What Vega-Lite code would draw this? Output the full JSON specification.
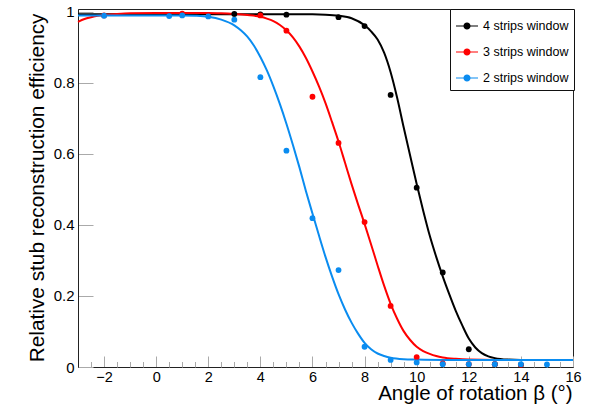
{
  "$schema": "https://vega.github.io/schema/vega-lite/v6.json",
  "width": 495,
  "height": 358,
  "autosize": "none",
  "padding": {"left": 78, "top": 9, "right": 19, "bottom": 38},
  "background": "white",
  "config": {
    "font": "Liberation Sans",
    "view": {"stroke": "#222", "strokeWidth": 1},
    "axis": {"grid": false, "titleFontWeight": "normal", "titleColor": "black", "labelColor": "black", "labelFont": "Liberation Sans", "titleFont": "Liberation Sans", "domainColor": "#222", "tickColor": "#aaa", "labelOverlap": false, "labelFlush": false, "labelBound": false}
  },
  "resolve": {"axis": {"x": "independent"}},
  "datasets": {
    "curves": [
      {"series": "4 strips window", "x": -3, "y": 0.993},
      {"series": "4 strips window", "x": -1, "y": 0.993},
      {"series": "4 strips window", "x": 1, "y": 0.993},
      {"series": "4 strips window", "x": 3, "y": 0.993},
      {"series": "4 strips window", "x": 5, "y": 0.993},
      {"series": "4 strips window", "x": 6, "y": 0.993},
      {"series": "4 strips window", "x": 6.5, "y": 0.992},
      {"series": "4 strips window", "x": 7, "y": 0.989},
      {"series": "4 strips window", "x": 7.5, "y": 0.982},
      {"series": "4 strips window", "x": 8, "y": 0.962},
      {"series": "4 strips window", "x": 8.25, "y": 0.945},
      {"series": "4 strips window", "x": 8.5, "y": 0.922},
      {"series": "4 strips window", "x": 8.75, "y": 0.885},
      {"series": "4 strips window", "x": 9, "y": 0.83},
      {"series": "4 strips window", "x": 9.25, "y": 0.758},
      {"series": "4 strips window", "x": 9.5, "y": 0.675},
      {"series": "4 strips window", "x": 9.75, "y": 0.595},
      {"series": "4 strips window", "x": 10, "y": 0.515},
      {"series": "4 strips window", "x": 10.25, "y": 0.44},
      {"series": "4 strips window", "x": 10.5, "y": 0.37},
      {"series": "4 strips window", "x": 10.75, "y": 0.31},
      {"series": "4 strips window", "x": 11, "y": 0.255},
      {"series": "4 strips window", "x": 11.25, "y": 0.205},
      {"series": "4 strips window", "x": 11.5, "y": 0.158},
      {"series": "4 strips window", "x": 11.75, "y": 0.117},
      {"series": "4 strips window", "x": 12, "y": 0.08},
      {"series": "4 strips window", "x": 12.25, "y": 0.055},
      {"series": "4 strips window", "x": 12.5, "y": 0.039},
      {"series": "4 strips window", "x": 12.75, "y": 0.03},
      {"series": "4 strips window", "x": 13, "y": 0.025},
      {"series": "4 strips window", "x": 13.5, "y": 0.021},
      {"series": "4 strips window", "x": 14, "y": 0.02},
      {"series": "4 strips window", "x": 16, "y": 0.02},
      {"series": "3 strips window", "x": -3, "y": 0.972},
      {"series": "3 strips window", "x": -2.75, "y": 0.98},
      {"series": "3 strips window", "x": -2.5, "y": 0.985},
      {"series": "3 strips window", "x": -2.25, "y": 0.989},
      {"series": "3 strips window", "x": -2, "y": 0.991},
      {"series": "3 strips window", "x": -1.5, "y": 0.994},
      {"series": "3 strips window", "x": -1, "y": 0.996},
      {"series": "3 strips window", "x": 0, "y": 0.997},
      {"series": "3 strips window", "x": 1, "y": 0.997},
      {"series": "3 strips window", "x": 2, "y": 0.997},
      {"series": "3 strips window", "x": 2.5, "y": 0.996},
      {"series": "3 strips window", "x": 3, "y": 0.994},
      {"series": "3 strips window", "x": 3.5, "y": 0.991},
      {"series": "3 strips window", "x": 4, "y": 0.986},
      {"series": "3 strips window", "x": 4.25, "y": 0.981},
      {"series": "3 strips window", "x": 4.5, "y": 0.974},
      {"series": "3 strips window", "x": 4.75, "y": 0.963},
      {"series": "3 strips window", "x": 5, "y": 0.948},
      {"series": "3 strips window", "x": 5.25, "y": 0.928},
      {"series": "3 strips window", "x": 5.5, "y": 0.902},
      {"series": "3 strips window", "x": 5.75, "y": 0.87},
      {"series": "3 strips window", "x": 6, "y": 0.832},
      {"series": "3 strips window", "x": 6.25, "y": 0.79},
      {"series": "3 strips window", "x": 6.5, "y": 0.743},
      {"series": "3 strips window", "x": 6.75, "y": 0.69},
      {"series": "3 strips window", "x": 7, "y": 0.635},
      {"series": "3 strips window", "x": 7.25, "y": 0.575},
      {"series": "3 strips window", "x": 7.5, "y": 0.515},
      {"series": "3 strips window", "x": 7.75, "y": 0.458},
      {"series": "3 strips window", "x": 8, "y": 0.403},
      {"series": "3 strips window", "x": 8.25, "y": 0.345},
      {"series": "3 strips window", "x": 8.5, "y": 0.286},
      {"series": "3 strips window", "x": 8.75, "y": 0.229},
      {"series": "3 strips window", "x": 9, "y": 0.178},
      {"series": "3 strips window", "x": 9.25, "y": 0.136},
      {"series": "3 strips window", "x": 9.5, "y": 0.101},
      {"series": "3 strips window", "x": 9.75, "y": 0.076},
      {"series": "3 strips window", "x": 10, "y": 0.057},
      {"series": "3 strips window", "x": 10.25, "y": 0.045},
      {"series": "3 strips window", "x": 10.5, "y": 0.037},
      {"series": "3 strips window", "x": 10.75, "y": 0.031},
      {"series": "3 strips window", "x": 11, "y": 0.027},
      {"series": "3 strips window", "x": 11.5, "y": 0.023},
      {"series": "3 strips window", "x": 12, "y": 0.021},
      {"series": "3 strips window", "x": 13, "y": 0.02},
      {"series": "3 strips window", "x": 16, "y": 0.02},
      {"series": "2 strips window", "x": -3, "y": 0.99},
      {"series": "2 strips window", "x": 0, "y": 0.99},
      {"series": "2 strips window", "x": 1, "y": 0.99},
      {"series": "2 strips window", "x": 1.5, "y": 0.989},
      {"series": "2 strips window", "x": 2, "y": 0.986},
      {"series": "2 strips window", "x": 2.5, "y": 0.978},
      {"series": "2 strips window", "x": 3, "y": 0.962},
      {"series": "2 strips window", "x": 3.25, "y": 0.948},
      {"series": "2 strips window", "x": 3.5, "y": 0.93},
      {"series": "2 strips window", "x": 3.75, "y": 0.905},
      {"series": "2 strips window", "x": 4, "y": 0.873},
      {"series": "2 strips window", "x": 4.25, "y": 0.835},
      {"series": "2 strips window", "x": 4.5, "y": 0.79},
      {"series": "2 strips window", "x": 4.75, "y": 0.74},
      {"series": "2 strips window", "x": 5, "y": 0.685},
      {"series": "2 strips window", "x": 5.25, "y": 0.625},
      {"series": "2 strips window", "x": 5.5, "y": 0.562},
      {"series": "2 strips window", "x": 5.75, "y": 0.495},
      {"series": "2 strips window", "x": 6, "y": 0.432},
      {"series": "2 strips window", "x": 6.25, "y": 0.37},
      {"series": "2 strips window", "x": 6.5, "y": 0.31},
      {"series": "2 strips window", "x": 6.75, "y": 0.255},
      {"series": "2 strips window", "x": 7, "y": 0.205},
      {"series": "2 strips window", "x": 7.25, "y": 0.162},
      {"series": "2 strips window", "x": 7.5, "y": 0.125},
      {"series": "2 strips window", "x": 7.75, "y": 0.094},
      {"series": "2 strips window", "x": 8, "y": 0.068},
      {"series": "2 strips window", "x": 8.25, "y": 0.05},
      {"series": "2 strips window", "x": 8.5, "y": 0.038},
      {"series": "2 strips window", "x": 8.75, "y": 0.031},
      {"series": "2 strips window", "x": 9, "y": 0.026},
      {"series": "2 strips window", "x": 9.5, "y": 0.022},
      {"series": "2 strips window", "x": 10, "y": 0.021},
      {"series": "2 strips window", "x": 11, "y": 0.02},
      {"series": "2 strips window", "x": 16, "y": 0.02}
    ],
    "points": [
      {"series": "4 strips window", "x": 3, "y": 0.994},
      {"series": "4 strips window", "x": 4, "y": 0.993},
      {"series": "4 strips window", "x": 5, "y": 0.992},
      {"series": "4 strips window", "x": 7, "y": 0.985},
      {"series": "4 strips window", "x": 8, "y": 0.96},
      {"series": "4 strips window", "x": 9, "y": 0.766},
      {"series": "4 strips window", "x": 10, "y": 0.505},
      {"series": "4 strips window", "x": 11, "y": 0.266},
      {"series": "4 strips window", "x": 12, "y": 0.05},
      {"series": "4 strips window", "x": 13, "y": 0.008},
      {"series": "4 strips window", "x": 14, "y": 0.006},
      {"series": "3 strips window", "x": -2, "y": 0.99},
      {"series": "3 strips window", "x": 1, "y": 0.995},
      {"series": "3 strips window", "x": 4, "y": 0.99},
      {"series": "3 strips window", "x": 5, "y": 0.947},
      {"series": "3 strips window", "x": 6, "y": 0.761},
      {"series": "3 strips window", "x": 7, "y": 0.631},
      {"series": "3 strips window", "x": 8, "y": 0.408},
      {"series": "3 strips window", "x": 9, "y": 0.172},
      {"series": "3 strips window", "x": 10, "y": 0.028},
      {"series": "3 strips window", "x": 11, "y": 0.01},
      {"series": "3 strips window", "x": 12, "y": 0.008},
      {"series": "3 strips window", "x": 13, "y": 0.008},
      {"series": "3 strips window", "x": 14, "y": 0.006},
      {"series": "2 strips window", "x": -2, "y": 0.989},
      {"series": "2 strips window", "x": 0.5, "y": 0.988},
      {"series": "2 strips window", "x": 1, "y": 0.99},
      {"series": "2 strips window", "x": 2, "y": 0.987},
      {"series": "2 strips window", "x": 3, "y": 0.978},
      {"series": "2 strips window", "x": 4, "y": 0.816},
      {"series": "2 strips window", "x": 5, "y": 0.609},
      {"series": "2 strips window", "x": 6, "y": 0.419},
      {"series": "2 strips window", "x": 7, "y": 0.273},
      {"series": "2 strips window", "x": 8, "y": 0.057},
      {"series": "2 strips window", "x": 9, "y": 0.02},
      {"series": "2 strips window", "x": 10, "y": 0.013},
      {"series": "2 strips window", "x": 11, "y": 0.008},
      {"series": "2 strips window", "x": 12, "y": 0.008},
      {"series": "2 strips window", "x": 13, "y": 0.008},
      {"series": "2 strips window", "x": 14, "y": 0.008},
      {"series": "2 strips window", "x": 15, "y": 0.007}
    ]
  },
  "layer": [
    {
      "data": {"name": "curves"},
      "mark": {"type": "line", "strokeWidth": 2, "interpolate": "monotone"},
      "encoding": {
        "x": {
          "field": "x", "type": "quantitative",
          "scale": {"domain": [-3, 16], "nice": false, "zero": false},
          "axis": {
            "orient": "bottom",
            "values": [-2, 0, 2, 4, 6, 8, 10, 12, 14, 16],
            "format": "d",
            "labelFontSize": 14.5,
            "tickSize": -11,
            "labelPadding": 25,
            "labelBaseline": "alphabetic",
            "title": "Angle of rotation β (°)",
            "titleFontSize": 20.5,
            "titleAlign": "right",
            "titleBaseline": "alphabetic",
            "titleX": 494,
            "titleY": 32
          }
        },
        "y": {
          "field": "y", "type": "quantitative",
          "scale": {"domain": [0, 1.008], "nice": false, "zero": false},
          "axis": {
            "values": [0, 0.05, 0.1, 0.15, 0.2, 0.25, 0.3, 0.35, 0.4, 0.45, 0.5, 0.55, 0.6, 0.65, 0.7, 0.75, 0.8, 0.85, 0.9, 0.95, 1],
            "labelExpr": "abs(datum.value * 5 - round(datum.value * 5)) < 0.001 ? format(datum.value, '~g') : ''",
            "labelFontSize": 15,
            "labelPadding": 19,
            "tickSize": {"condition": {"test": "abs(datum.value * 5 - round(datum.value * 5)) < 0.001", "value": -15}, "value": -7.5},
            "title": "Relative stub reconstruction efficiency",
            "titleFontSize": 20.8,
            "titleAngle": 270,
            "titleAlign": "right",
            "titleBaseline": "alphabetic",
            "titleX": -35,
            "titleY": 4
          }
        },
        "color": {
          "field": "series", "type": "nominal",
          "scale": {"domain": ["4 strips window", "3 strips window", "2 strips window"], "range": ["#000000", "#ff0000", "#0a8cf0"]},
          "legend": {
            "orient": "none", "legendX": 372, "legendY": 0, "title": null,
            "padding": 5, "strokeColor": "#111", "fillColor": "white", "cornerRadius": 0,
            "symbolType": "M-1,0H1M-0.27,0A0.27,0.27,0,1,0,0.27,0A0.27,0.27,0,1,0,-0.27,0Z",
            "symbolSize": 484, "symbolStrokeWidth": 1.2,
            "labelFontSize": 12.5, "labelColor": "black", "labelOffset": 4, "rowPadding": 7,
            "encode": {"symbols": {"update": {"fill": {"scale": "color", "field": "value"}, "stroke": {"scale": "color", "field": "value"}, "strokeWidth": {"value": 1.2}, "opacity": {"value": 1}}}}
          }
        }
      }
    },
    {
      "data": {"name": "points"},
      "mark": {"type": "circle", "size": 34, "opacity": 1},
      "encoding": {
        "x": {
          "field": "x", "type": "quantitative",
          "axis": {
            "orient": "bottom",
            "values": [-2.5, -1.5, -1, -0.5, 0.5, 1, 1.5, 2.5, 3, 3.5, 4.5, 5, 5.5, 6.5, 7, 7.5, 8.5, 9, 9.5, 10.5, 11, 11.5, 12.5, 13, 13.5, 14.5, 15, 15.5],
            "labels": false,
            "domain": false,
            "title": null,
            "tickSize": -5.5
          }
        },
        "y": {"field": "y", "type": "quantitative"},
        "color": {"field": "series", "type": "nominal"}
      }
    }
  ]
}
